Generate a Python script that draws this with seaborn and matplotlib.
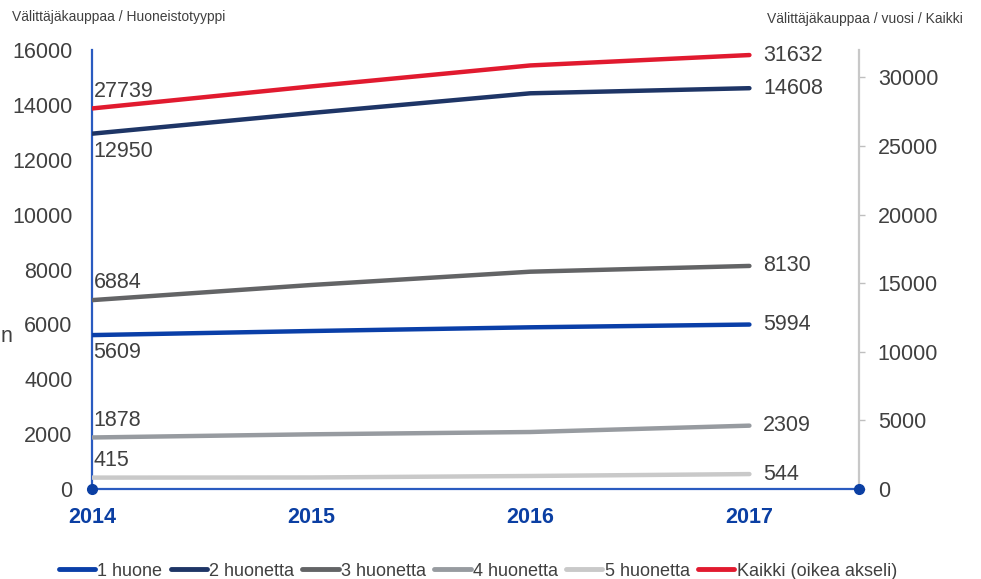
import matplotlib
matplotlib.use("Agg")
import matplotlib.pyplot as plt
from matplotlib.lines import Line2D
import seaborn as sns
import pandas as pd

years = [2014, 2015, 2016, 2017]
huone_1 = [5609, 5758, 5893, 5994]
huonetta_2 = [12950, 13704, 14422, 14608]
huonetta_3 = [6884, 7435, 7920, 8130]
huonetta_4 = [1878, 1993, 2077, 2309]
huonetta_5 = [415, 420, 474, 544]
kaikki = [27739, 29345, 30874, 31632]

series_names = ["1 huone", "2 huonetta", "3 huonetta", "4 huonetta", "5 huonetta"]
series_values = [huone_1, huonetta_2, huonetta_3, huonetta_4, huonetta_5]
kaikki_name = "Kaikki (oikea akseli)"

colors = {
    "1 huone": "#0A3FA8",
    "2 huonetta": "#1E3566",
    "3 huonetta": "#636466",
    "4 huonetta": "#979BA0",
    "5 huonetta": "#C9C9C9",
    kaikki_name: "#E11A2F",
}
# label placement at the first year: above (+1) or below (-1) the line
first_offset = {"1 huone": -1, "2 huonetta": -1, "3 huonetta": 1,
                "4 huonetta": 1, "5 huonetta": 1, kaikki_name: 1}

sns.set_style("white")
plt.rcParams["font.family"] = ["Liberation Sans", "DejaVu Sans"]

long_df = pd.DataFrame(
    [(y, n, v) for n, vals in zip(series_names, series_values) for y, v in zip(years, vals)],
    columns=["vuosi", "tyyppi", "kaupat"],
)
kaikki_df = pd.DataFrame({"vuosi": years, "kaupat": kaikki})

fig = plt.figure(figsize=(9.81, 5.79), dpi=100)
ax = fig.add_axes([92 / 981, 1 - 489 / 579, (859 - 92) / 981, (489 - 50) / 579])
ax2 = ax.twinx()

lw = 3.2
sns.lineplot(data=long_df, x="vuosi", y="kaupat", hue="tyyppi", palette=colors,
             hue_order=series_names, linewidth=lw, ax=ax, legend=False, zorder=3)
sns.lineplot(data=kaikki_df, x="vuosi", y="kaupat", color=colors[kaikki_name],
             linewidth=lw, ax=ax2, legend=False, zorder=3)

ax.set_xlim(2014, 2017.5)
ax.set_ylim(0, 16000)
ax2.set_ylim(0, 32000)
ax.set_xticks(years)
ax.set_yticks(range(0, 16001, 2000))
ax2.set_yticks(range(0, 30001, 5000))
ax.set_xlabel("")
ax.set_ylabel("")
ax2.set_ylabel("")

label_color = "#404040"
ax.tick_params(axis="y", length=0, pad=14, labelsize=15.5, labelcolor=label_color)
ax.tick_params(axis="x", length=0, pad=13, labelsize=15.5, labelcolor="#0B3FA3")
for t in ax.get_xticklabels():
    t.set_fontweight("bold")
ax2.tick_params(axis="y", length=4.5, width=1, color="#BFBFBF", pad=9,
                labelsize=15.5, labelcolor=label_color)

for a in (ax, ax2):
    for s in a.spines.values():
        s.set_visible(False)
ax.spines["left"].set_visible(True)
ax.spines["left"].set_color("#2A5BC0")
ax.spines["left"].set_linewidth(1.6)
ax.spines["bottom"].set_visible(True)
ax.spines["bottom"].set_color("#2A5BC0")
ax.spines["bottom"].set_linewidth(1.6)
ax2.spines["right"].set_visible(True)
ax2.spines["right"].set_color("#C8C8C8")
ax2.spines["right"].set_linewidth(1.6)

# axis end markers, drawn on the top axes so the right spine does not cover them
ax2.plot([2014, 2017.5], [0, 0], "o", color="#0B3FA3", markersize=7,
         clip_on=False, zorder=10)

# value labels
def annotate(a, name, vals):
    off = first_offset[name]
    a.annotate(str(vals[0]), (years[0], vals[0]), xytext=(1, 5 * off),
               textcoords="offset points", ha="left",
               va="bottom" if off > 0 else "top",
               fontsize=15.5, color=label_color, zorder=6)
    a.annotate(str(vals[-1]), (years[-1], vals[-1]), xytext=(10, 0),
               textcoords="offset points", ha="left", va="center",
               fontsize=15.5, color=label_color, zorder=6)

for n, vals in zip(series_names, series_values):
    annotate(ax, n, vals)
annotate(ax2, kaikki_name, kaikki)

fig.text(12 / 981, 1 - 17 / 579, "Välittäjäkauppaa / Huoneistotyyppi",
         fontsize=10, color="#404040", va="center", ha="left")
fig.text(963 / 981, 1 - 19 / 579, "Välittäjäkauppaa / vuosi / Kaikki",
         fontsize=10, color="#404040", va="center", ha="right")
fig.text(1 / 981, 1 - 336 / 579, "n", fontsize=15.5, color=label_color,
         va="center", ha="left")

handles = [Line2D([], [], color=colors[n], linewidth=3.5, solid_capstyle="round")
           for n in series_names + [kaikki_name]]
fig.legend(handles, series_names + [kaikki_name], loc="center",
           bbox_to_anchor=(478 / 981, 1 - 571 / 579), ncol=6, frameon=False,
           fontsize=13, handlelength=2.0, handletextpad=0.15,
           columnspacing=0.45, labelcolor="#404040")

fig.savefig("out.png", dpi=100)
